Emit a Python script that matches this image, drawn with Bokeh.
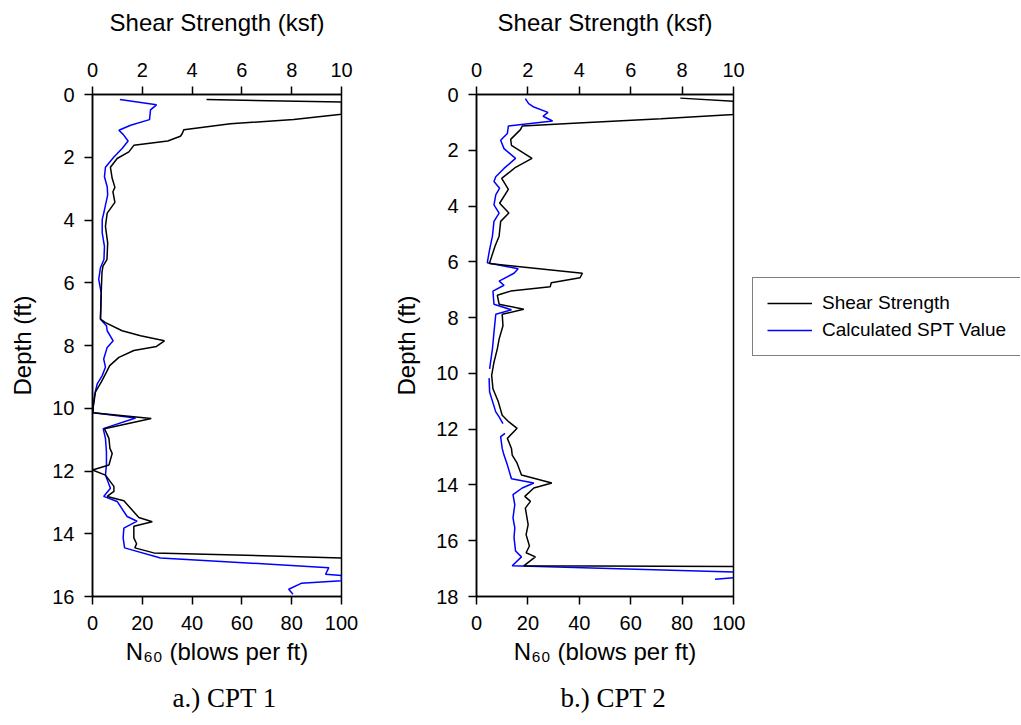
from bokeh.plotting import figure
from bokeh.models import Range1d, LinearAxis, FixedTicker, Legend, LegendItem, Title
from bokeh.layouts import row
from bokeh.embed import file_html
from bokeh.resources import INLINE

NAN = float("nan")

# ---------------- data ----------------
# CPT 1
cpt1_shear_depth = [0.16, 0.24, 0.63, 0.80, 0.93, 1.12, 1.25, 1.33, 1.48, 1.62, 1.83, 2.04, 2.32, 2.67,
                    2.96, 3.10, 3.44, 3.78, 4.20, 4.73, 5.26, 5.47, 5.68, 6.32, 7.16, 7.27, 7.53, 7.69,
                    7.85, 8.03, 8.16, 8.38, 8.64, 8.85, 9.17, 9.48, 9.96, 10.14, 10.33, 10.65, 10.96,
                    11.28, 11.44, 11.81, 11.97, 12.13, 12.49, 12.65, 12.81, 12.95, 13.48, 13.62, 13.76,
                    14.13, 14.32, 14.45, 14.61, 14.77]
cpt1_shear_ksf = [4.58, 10.0, 10.0, 8.08, 5.54, 3.67, 3.60, 3.53, 3.02, 1.66, 1.46, 0.99, 0.72, 0.79,
                  0.90, 0.82, 0.90, 0.59, 0.52, 0.61, 0.58, 0.42, 0.38, 0.35, 0.32, 0.52, 1.19, 1.93,
                  2.89, 2.57, 1.66, 1.06, 0.69, 0.56, 0.35, 0.12, 0.03, 0.02, 2.36, 0.48, 0.66,
                  0.70, 0.79, 0.66, 0.0, 0.52, 0.86, 0.86, 0.59, 1.26, 1.86, 2.40, 1.66,
                  1.66, 1.77, 1.70, 2.46, 10.0]
cpt1_spt_depth = [0.16, 0.33, 0.49, 0.80, 0.98, 1.14, 1.27, 1.48, 1.72, 1.99, 2.32, 2.62, 2.94, 3.20,
                  3.68, 3.99, 4.41, 4.84, 5.26, 5.52, 5.89, 6.32, 7.16, 7.37, 7.53, 7.85, 8.06, 8.43,
                  8.69, 8.96, 9.22, 9.59, 9.91, 10.14, 10.31, 10.65, 10.96, 11.39, 11.81, 12.13, 12.55,
                  12.81, 12.97, 13.45, 13.60, 13.82, 14.13, 14.45, 14.77, 15.08, 15.29, 15.33, 15.50,
                  15.58, 15.77, 15.93]
cpt1_spt_n60 = [11.0, 25.7, 23.3, 22.9, 15.3, 10.6, 12.3, 14.3, 11.9, 8.6, 5.2, 4.8, 5.9, 6.1,
                4.8, 3.9, 3.9, 4.8, 4.6, 3.2, 2.5, 3.5, 3.2, 5.6, 5.9, 8.3, 5.9, 4.5,
                5.2, 3.9, 1.9, 0.8, 0.3, 0.3, 17.3, 4.3, 5.2, 5.6, 5.6, 5.2, 7.2,
                4.5, 9.9, 13.9, 17.9, 12.6, 12.3, 12.9, 27.3, 94.9, 93.6, 100.0, 100.0,
                83.8, 78.8, 80.5]

# CPT 2
cpt2_shear_depth = [0.13, 0.24, 0.72, 0.87, 1.02, 1.13, 1.26, 1.61, 1.82, 2.29, 2.61, 2.73, 3.01, 3.40,
                    3.90, 4.25, 4.55, 5.08, 5.44, 6.06, 6.41, 6.57, 6.75, 6.89, 7.05, 7.20, 7.52, 7.70,
                    7.88, 8.29, 8.77, 9.12, 9.60, 10.07, 10.55, 11.02, 11.50, 11.74, 11.97, 12.33,
                    12.69, 12.93, 13.22, 13.64, 13.93, 14.11, 14.41, 14.59, 14.83, 15.42, 15.78, 16.19,
                    16.43, 16.58, 16.90, 16.92]
cpt2_shear_ksf = [7.93, 10.0, 10.0, 7.18, 3.96, 1.78, 1.71, 1.33, 1.36, 2.16, 1.52, 1.36, 0.98, 1.24,
                  0.90, 1.26, 0.94, 0.88, 0.72, 0.50, 4.12, 4.03, 2.91, 2.87, 1.33, 0.81, 0.88, 1.84,
                  1.00, 1.03, 0.88, 0.81, 0.68, 0.59, 0.64, 0.85, 1.00, 1.26, 1.58, 1.20,
                  1.36, 1.39, 1.58, 1.75, 2.93, 2.23, 1.88, 2.10, 1.90, 2.01, 1.93, 2.06,
                  1.93, 2.29, 1.84, 10.0]
cpt2_spt_depth = [0.15, 0.33, 0.45, 0.64, 0.78, 0.95, 1.13, 1.40, 1.64, 1.94, 2.29, 2.65, 2.95, 3.12,
                  3.36, 3.60, 3.96, 4.25, 4.55, 5.08, 5.56, 6.03, 6.25, 6.41, 6.69, 6.84, 7.05, 7.52,
                  7.72, 7.88, 8.53, 9.12, 9.84, NAN, 10.17, 10.67, 11.38, 11.56, 11.80, NAN, 12.15,
                  12.27, 12.69, 12.93, 13.28, 13.78, 13.93, 14.11, 14.35, 14.71, 15.18, 15.54, 15.89,
                  16.37, 16.58, 16.90, 17.12, NAN, 17.33, 17.38]
cpt2_spt_n60 = [19.0, 20.3, 22.3, 27.8, 25.9, 29.6, 12.4, 12.0, 9.4, 10.7, 15.2, 10.7, 7.5, 6.8,
                9.0, 7.5, 6.8, 8.8, 6.8, 6.2, 5.1, 4.2, 16.2, 14.6, 8.8, 10.7, 6.4, 6.8,
                13.6, 7.5, 6.8, 6.2, 5.1, NAN, 4.9, 5.1, 7.5, 8.8, 10.3, NAN, 11.1,
                9.4, 10.0, 10.7, 12.0, 13.6, 22.3, 17.8, 14.2, 14.9, 14.2, 14.9, 14.6,
                15.2, 17.5, 13.9, 100.0, NAN, 100.0, 92.8]

depth_ticks_1 = [0, 2, 4, 6, 8, 10, 12, 14, 16]
depth_ticks_2 = [0, 2, 4, 6, 8, 10, 12, 14, 16, 18]
n60_ticks = [0, 20, 40, 60, 80, 100]
ksf_ticks = [0, 2, 4, 6, 8, 10]

captions = ["a.) CPT 1", "b.) CPT 2"]
series_labels = ["Shear Strength", "Calculated SPT Value"]
x_bottom_label = "N\u2086\u2080 (blows per ft)"
x_top_label = "Shear Strength (ksf)"
y_label = "Depth (ft)"

SANS = "Liberation Sans"
SERIF = "Liberation Serif"
TICK_FS = "20px"
LABEL_FS = "24px"
H = 725
FRAME_TOP = 94
FRAME_H = 505
BLUE = "#0000ff"
LW = 1.5


def style_axis(ax, standoff=10):
    ax.axis_line_color = "black"
    ax.axis_line_width = 1.5
    ax.major_tick_line_color = "black"
    ax.major_tick_line_width = 1.5
    ax.major_tick_in = 0
    ax.major_tick_out = 8
    ax.minor_tick_line_color = None
    ax.major_label_text_font = SANS
    ax.major_label_text_font_size = TICK_FS
    ax.major_label_text_color = "black"
    ax.major_label_standoff = standoff
    ax.axis_label_text_font = SANS
    ax.axis_label_text_font_size = LABEL_FS
    ax.axis_label_text_font_style = "normal"
    ax.axis_label_text_color = "black"


def make_panel(width, b_left, frame_w, depth_max, depth_ticks,
               shear_d, shear_v, spt_d, spt_v, caption, cap_offset):
    p = figure(width=width, height=H, x_range=Range1d(0, 100), y_range=Range1d(depth_max, 0),
               output_backend="svg", toolbar_location=None,
               x_axis_location=None, y_axis_location=None,
               min_border_left=b_left, min_border_right=width - b_left - frame_w,
               min_border_top=FRAME_TOP, min_border_bottom=H - FRAME_TOP - FRAME_H)
    p.xgrid.visible = False
    p.ygrid.visible = False
    p.outline_line_color = "black"
    p.outline_line_width = 1.5
    p.background_fill_color = "white"
    p.border_fill_color = "white"

    p.extra_x_ranges = {"ksf": Range1d(0, 10)}
    top = LinearAxis(x_range_name="ksf", ticker=FixedTicker(ticks=ksf_ticks), axis_label=x_top_label)
    style_axis(top, 10)
    top.axis_label_standoff = 24
    p.add_layout(top, "above")

    bottom = LinearAxis(ticker=FixedTicker(ticks=n60_ticks), axis_label=x_bottom_label)
    style_axis(bottom, 11)
    bottom.axis_label_standoff = 5
    p.add_layout(bottom, "below")

    left = LinearAxis(ticker=FixedTicker(ticks=depth_ticks), axis_label=y_label)
    style_axis(left, 10)
    left.axis_label_standoff = 13
    p.add_layout(left, "left")

    p.add_layout(Title(text=caption, align="left", text_font=SERIF, text_font_size="27px",
                       text_font_style="normal", text_color="black", standoff=26,
                       offset=cap_offset), "below")

    rb = p.line(spt_v, spt_d, line_color=BLUE, line_width=LW)
    rk = p.line(shear_v, shear_d, x_range_name="ksf", line_color="black", line_width=LW)
    return p, rb, rk


p1, rb1, rk1 = make_panel(390, 92, 249, 16, depth_ticks_1,
                          cpt1_shear_depth, cpt1_shear_ksf, cpt1_spt_depth, cpt1_spt_n60,
                          captions[0], 80)
p2, rb2, rk2 = make_panel(355, 84, 259, 18, depth_ticks_2,
                          cpt2_shear_depth, cpt2_shear_ksf, cpt2_spt_depth, cpt2_spt_n60,
                          captions[1], 84)

# legend panel
p3 = figure(width=275, height=H, x_range=Range1d(0, 1), y_range=Range1d(0, 1),
            output_backend="svg", toolbar_location=None,
            x_axis_location=None, y_axis_location=None,
            min_border_left=0, min_border_right=0, min_border_top=0, min_border_bottom=0)
p3.xgrid.visible = False
p3.ygrid.visible = False
p3.outline_line_color = None
p3.background_fill_color = "white"
p3.border_fill_color = "white"
lk = p3.line([-5, -4], [-5, -4], line_color="black", line_width=LW)
lb = p3.line([-5, -4], [-5, -4], line_color=BLUE, line_width=LW)
legend = Legend(items=[LegendItem(label=series_labels[0], renderers=[lk]),
                       LegendItem(label=series_labels[1], renderers=[lb])],
                location=(7, 240), orientation="vertical",
                label_text_font=SANS, label_text_font_size="19px", label_text_color="black",
                glyph_width=45, glyph_height=20, label_height=20, label_standoff=10,
                label_width=182, padding=14, spacing=5, margin=0,
                border_line_color="black", border_line_width=1,
                background_fill_color="white", background_fill_alpha=1.0)
p3.add_layout(legend)

layout = row(p1, p2, p3)
open("out.html", "w").write(file_html(layout, INLINE))
